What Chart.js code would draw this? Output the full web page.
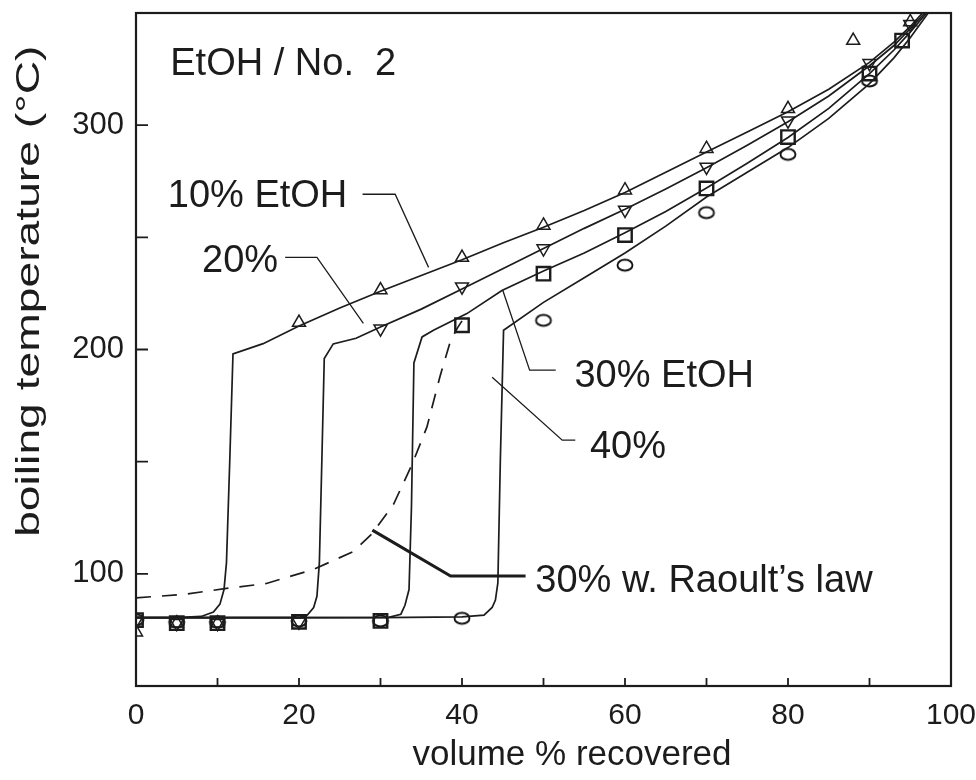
<!DOCTYPE html>
<html>
<head>
<meta charset="utf-8">
<script src="https://cdn.jsdelivr.net/npm/chart.js@4.4.0/dist/chart.umd.min.js"></script>
<style>
  html, body { margin: 0; padding: 0; background: #fff; }
  #wrap { width: 976px; height: 780px; }
</style>
</head>
<body>
<div id="wrap"><canvas id="boil-chart" width="976" height="780"></canvas></div>
<script>
// measured points (volume %, boiling temperature)
var x10 = [0, 5, 10, 20, 30, 40, 50, 60, 70, 80, 88, 95];
var y10 = [74, 78, 78, 212, 226.5, 241, 255.3, 271, 289.5, 307.3, 337.7, 346];
var x20 = [0, 5, 10, 20, 30, 40, 50, 60, 70, 80, 90, 95];
var y20 = [79, 78, 78, 78.6, 209.3, 228, 245, 262.2, 281.4, 302, 327.6, 345];
var x30 = [0, 5, 10, 20, 30, 40, 50, 60, 70, 80, 90, 94];
var y30 = [79.4, 78, 78, 78.6, 79, 210.8, 233.8, 251, 271.8, 294.7, 323, 337.7];
var x40 = [0, 5, 10, 20, 30, 40, 50, 60, 70, 80, 90];
var y40 = [79.5, 78.5, 78.5, 79, 79, 80.2, 213, 237.6, 261, 287, 319.7];

// fitted curves
var cx10 = [0, 5, 8, 9.5, 10.3, 10.8, 11.1, 11.5, 11.9, 15.6, 20, 25, 30, 35, 40, 45, 50, 55, 60, 65, 70, 75, 80, 85, 90, 93, 95, 96.5];
var cy10 = [80.5, 80.5, 81, 83, 86.5, 93, 105, 150, 198, 202.6, 210.5, 218.5, 226, 233, 240, 247.5, 254.5, 262, 270, 279, 288, 297, 306, 316, 328, 337, 344, 350];
var cx20 = [0, 10, 20, 21, 21.8, 22.2, 22.5, 22.8, 23.1, 24.2, 27, 30, 35, 40, 45, 50, 55, 60, 65, 70, 75, 80, 85, 90, 93, 95, 96.8];
var cy20 = [80.5, 80.5, 80.5, 81.5, 85, 90, 105, 150, 196, 202.5, 205, 210, 218, 227, 236, 245, 254, 262.5, 271.5, 281, 291, 301.5, 313, 326.5, 335.5, 343, 350];
var cx30 = [0, 10, 20, 31, 32.5, 33, 33.5, 33.8, 34.1, 35.1, 36.5, 40.6, 44.9, 50, 55, 60, 65, 70, 75, 80, 85, 90, 93, 95, 97];
var cy30 = [80.5, 80.5, 80.5, 80.6, 82, 86, 93, 130, 194, 205.6, 208.6, 216, 226.3, 235, 243, 252, 261.5, 272, 283, 294.5, 307.5, 323, 333.5, 341.5, 350];
var cx40 = [0, 10, 20, 30, 40, 42.7, 43.7, 44.1, 44.4, 44.7, 45.1, 50, 55, 60, 65, 70, 75, 80, 85, 90, 93, 95, 97.2];
var cy40 = [80.5, 80.5, 80.5, 80.5, 80.8, 81.6, 85, 88.3, 96, 150, 208.6, 221, 232, 243, 255, 268, 279, 290, 303, 318.5, 330, 339, 350];
var cxRaoult = [0, 5.8, 11.1, 16, 21.8, 26.7, 29, 31.6, 33.9, 35.7, 37.3, 38.6, 39.5, 40.6];
var cyRaoult = [89.3, 90.8, 93.5, 95.7, 102, 110, 118, 131, 149, 165.5, 188, 204, 210, 216];

var xTicks = [0, 20, 40, 60, 80, 100];
var yTicks = [100, 200, 300];

var ink = '#1c1c1c';
var font = 'Liberation Sans, Arial, sans-serif';

function pts(xs, ys) {
    return xs.map(function(x, i) { return { x: x, y: ys[i] }; });
}

function ellipseMark() {
    var c = document.createElement('canvas');
    c.width = 20; c.height = 16;
    var g = c.getContext('2d');
    g.strokeStyle = '#111';
    g.lineWidth = 1.9;
    g.beginPath();
    g.ellipse(10, 8, 7.5, 5.5, 0, 0, Math.PI * 2);
    g.stroke();
    return c;
}

function curve(xs, ys, dash) {
    return {
        type: 'line',
        data: pts(xs, ys),
        borderColor: ink,
        borderWidth: 1.7,
        borderDash: dash || [],
        pointRadius: 0,
        fill: false,
        tension: 0
    };
}

function marks(xs, ys, style, radius, rot, width) {
    return {
        type: 'scatter',
        data: pts(xs, ys),
        pointStyle: style,
        pointRadius: radius,
        pointRotation: rot,
        pointBorderColor: ink,
        pointBackgroundColor: 'rgba(0,0,0,0)',
        pointBorderWidth: width,
        showLine: false
    };
}

// labels and leader lines, in data units
var notes = [
    { text: 'EtOH / No.  2', x: 4.2, y: 322.2, lead: [] },
    { text: '10% EtOH', x: 3.9, y: 263.4, lead: [[27.8, 269.2], [31.8, 269.2], [35.9, 236.6]] },
    { text: '20%', x: 8.1, y: 234.4, lead: [[18.3, 241.1], [22.2, 241.1], [27.9, 211.7]] },
    { text: '30% EtOH', x: 53.8, y: 183.2, lead: [[51.5, 190.8], [48.3, 190.8], [45, 226.4]] },
    { text: '40%', x: 55.7, y: 151.6, lead: [[53.9, 159.6], [52.3, 159.6], [43.7, 187.6]] },
    { text: '30% w. Raoult\u2019s law', x: 49, y: 91.9, lead: [[47.8, 99], [38.6, 99], [29, 119.5]], bold: true }
];

function noPad(s) {
    s.paddingLeft = 0; s.paddingRight = 0;
    s.paddingTop = 0; s.paddingBottom = 0;
}

var framePlugin = {
    id: 'frame',
    afterDatasetsDraw: function(chart) {
        var ctx = chart.ctx, a = chart.chartArea;
        var sx = chart.scales.x, sy = chart.scales.y;
        ctx.save();
        ctx.strokeStyle = ink;
        ctx.lineWidth = 2.2;
        ctx.strokeRect(a.left, a.top, a.right - a.left, a.bottom - a.top);
        ctx.lineWidth = 1.8;
        ctx.beginPath();
        for (var v = 10; v < 100; v += 10) {
            var px = sx.getPixelForValue(v);
            ctx.moveTo(px, a.bottom);
            ctx.lineTo(px, a.bottom - 8);
        }
        for (var t = 100; t < 350; t += 50) {
            var py = sy.getPixelForValue(t);
            ctx.moveTo(a.left, py);
            ctx.lineTo(a.left + 12, py);
        }
        ctx.stroke();

        // annotations
        ctx.fillStyle = ink;
        ctx.font = '38px ' + font;
        ctx.textBaseline = 'alphabetic';
        notes.forEach(function(n) {
            ctx.fillText(n.text, sx.getPixelForValue(n.x), sy.getPixelForValue(n.y));
            if (n.lead.length) {
                ctx.lineWidth = n.bold ? 3 : 1.3;
                ctx.beginPath();
                n.lead.forEach(function(p, i) {
                    var px = sx.getPixelForValue(p[0]), py = sy.getPixelForValue(p[1]);
                    if (i === 0) ctx.moveTo(px, py); else ctx.lineTo(px, py);
                });
                ctx.stroke();
            }
        });

        // axis titles
        ctx.textAlign = 'center';
        ctx.font = '35px ' + font;
        ctx.fillText('volume % recovered', sx.getPixelForValue(53.5), 765);
        ctx.translate(39, sy.getPixelForValue(226));
        ctx.rotate(-Math.PI / 2);
        ctx.scale(1.36, 1);
        ctx.font = '34px ' + font;
        ctx.fillText('boiling temperature (\u00b0C)', 0, 0);
        ctx.restore();
    }
};

var ctx = document.getElementById('boil-chart').getContext('2d');
var myChart = new Chart(ctx, {
    type: 'scatter',
    data: {
        datasets: [
            curve(cx10, cy10),
            curve(cx20, cy20),
            curve(cx30, cy30),
            curve(cx40, cy40),
            curve(cxRaoult, cyRaoult, [15, 11]),
            marks(x10, y10, 'triangle', 7.5, 0, 1.5),
            marks(x20, y20, 'triangle', 7.5, 180, 1.5),
            marks(x30, y30, 'rect', 9.5, 0, 2.4),
            marks(x40, y40, ellipseMark(), 7, 0, 1.5)
        ]
    },
    options: {
        responsive: false,
        animation: false,
        layout: { padding: { top: 13, right: 25, left: 0, bottom: 0 } },
        plugins: {
            legend: { display: false },
            tooltip: { enabled: false }
        },
        scales: {
            x: {
                type: 'linear',
                min: 0, max: 100,
                grid: { display: false, drawTicks: false },
                border: { display: false },
                ticks: {
                    stepSize: 10,
                    autoSkip: false,
                    maxRotation: 0,
                    padding: 12,
                    color: ink,
                    font: { family: font, size: 30 },
                    callback: function(v) { return xTicks.indexOf(v) >= 0 ? v : ''; }
                },
                afterFit: function(s) { s.height = 94; noPad(s); }
            },
            y: {
                type: 'linear',
                min: 50, max: 350,
                grid: { display: false, drawTicks: false },
                border: { display: false },
                ticks: {
                    stepSize: 50,
                    padding: 12,
                    color: ink,
                    font: { family: font, size: 31 },
                    callback: function(v) { return yTicks.indexOf(v) >= 0 ? v : ''; }
                },
                afterFit: function(s) { s.width = 136; noPad(s); }
            }
        }
    },
    plugins: [framePlugin]
});
</script>
</body>
</html>
